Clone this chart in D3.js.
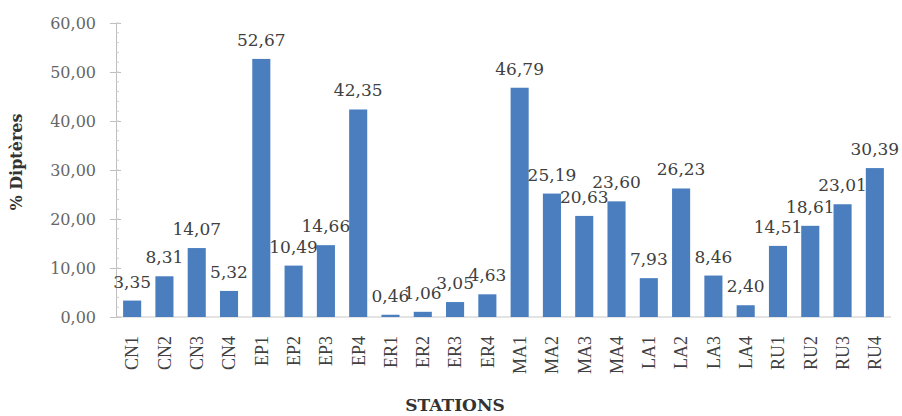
<!DOCTYPE html>
<html>
<head>
<meta charset="utf-8">
<script src="https://cdn.jsdelivr.net/npm/d3@7"></script>
<style>
  html, body { margin: 0; padding: 0; background: #fff; }
  svg { display: block; }
</style>
</head>
<body>
<div id="chart"></div>
<script>
const stations = ['CN1', 'CN2', 'CN3', 'CN4', 'EP1', 'EP2', 'EP3', 'EP4',
  'ER1', 'ER2', 'ER3', 'ER4', 'MA1', 'MA2', 'MA3', 'MA4',
  'LA1', 'LA2', 'LA3', 'LA4', 'RU1', 'RU2', 'RU3', 'RU4'];
const dipteres = [3.35, 8.31, 14.07, 5.32, 52.67, 10.49, 14.66, 42.35,
  0.46, 1.06, 3.05, 4.63, 46.79, 25.19, 20.63, 23.60,
  7.93, 26.23, 8.46, 2.40, 14.51, 18.61, 23.01, 30.39];
const yTicks = [0, 10, 20, 30, 40, 50, 60];
const yMinorTicks = d3.range(0, 61, 2);

const width = 902, height = 416;
const fmt = v => v.toFixed(2).replace('.', ',');

const svg = d3.select('#chart').append('svg')
  .attr('width', width)
  .attr('height', height);

const x = d3.scaleBand()
  .domain(stations)
  .range([116, 891])
  .paddingInner(0.44)
  .paddingOuter(0.22);

const y = d3.scaleLinear()
  .domain([0, 60])
  .range([317, 23]);

// y axis
const yAxis = svg.append('g')
  .attr('transform', 'translate(116,0)')
  .call(d3.axisLeft(y).tickValues(yTicks).tickFormat(fmt).tickSize(6).tickPadding(14));
yAxis.select('.domain').attr('stroke', '#bfbfbf');
yAxis.selectAll('.tick line').attr('stroke', '#bfbfbf').attr('x2', -6).attr('x1', 5);
yAxis.selectAll('.tick text')
  .attr('fill', '#666')
  .style('font-family', '"DejaVu Serif", serif')
  .style('font-size', '16px');

svg.append('g')
  .selectAll('line')
  .data(yMinorTicks)
  .join('line')
    .attr('x1', 116)
    .attr('x2', 119)
    .attr('y1', d => y(d))
    .attr('y2', d => y(d))
    .attr('stroke', '#d0d0d0');

// baseline
svg.append('line')
  .attr('x1', 116)
  .attr('x2', 891)
  .attr('y1', y(0))
  .attr('y2', y(0))
  .attr('stroke', '#c8c8c8');

// bars
svg.append('g')
  .selectAll('rect')
  .data(stations)
  .join('rect')
    .attr('x', d => x(d))
    .attr('y', (d, i) => y(dipteres[i]))
    .attr('width', x.bandwidth())
    .attr('height', (d, i) => y(0) - y(dipteres[i]))
    .attr('fill', '#4a7ebf');

// value labels
svg.append('g')
  .selectAll('text')
  .data(stations)
  .join('text')
    .attr('x', d => x(d) + x.bandwidth() / 2)
    .attr('y', (d, i) => y(dipteres[i]) - 13)
    .attr('text-anchor', 'middle')
    .attr('fill', '#404040')
    .style('font-family', '"DejaVu Serif", serif')
    .style('font-size', '17px')
    .text((d, i) => fmt(dipteres[i]));

// category labels
svg.append('g')
  .selectAll('text')
  .data(stations)
  .join('text')
    .attr('transform', d => `translate(${x(d) + x.bandwidth() / 2},336) rotate(-90)`)
    .attr('text-anchor', 'end')
    .attr('dy', '0.35em')
    .attr('fill', '#404040')
    .style('font-family', '"Liberation Serif", serif')
    .style('font-size', '18px')
    .text(d => d);

// axis titles
svg.append('text')
  .attr('x', 455)
  .attr('y', 411)
  .attr('text-anchor', 'middle')
  .attr('fill', '#333')
  .style('font-family', '"DejaVu Serif", serif')
  .style('font-weight', 'bold')
  .style('font-size', '17px')
  .text('STATIONS');

svg.append('text')
  .attr('transform', 'translate(22,162) rotate(-90)')
  .attr('text-anchor', 'middle')
  .attr('fill', '#333')
  .style('font-family', '"DejaVu Serif", serif')
  .style('font-weight', 'bold')
  .style('font-size', '16px')
  .text('% Diptères');
</script>
</body>
</html>
